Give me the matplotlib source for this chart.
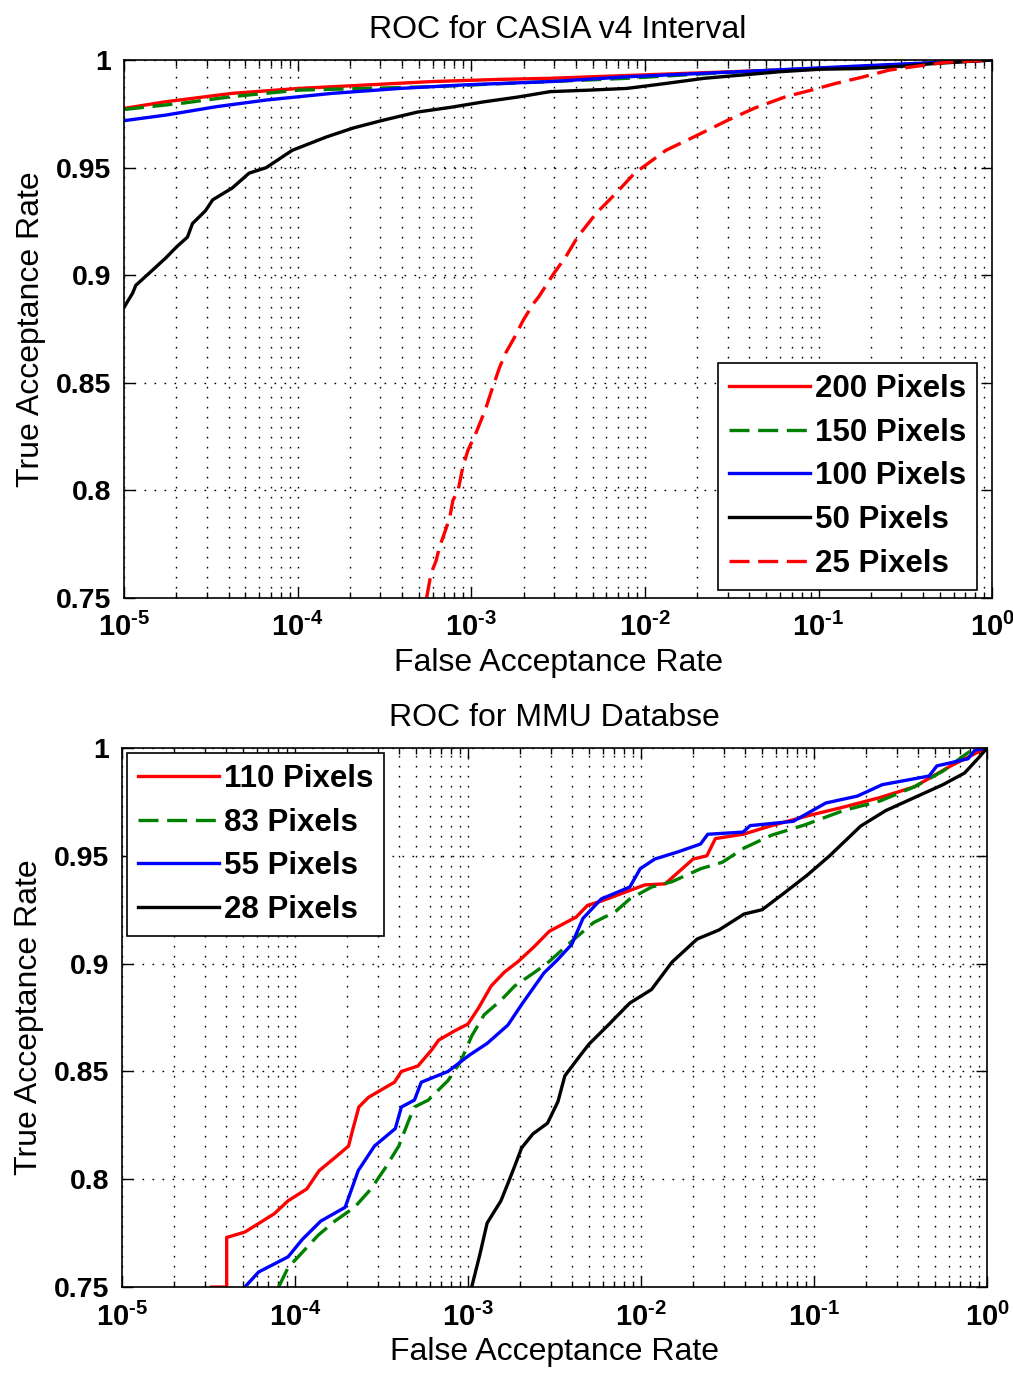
import matplotlib
matplotlib.use("Agg")
import matplotlib.pyplot as plt
from matplotlib.ticker import FixedLocator, FixedFormatter, LogLocator, NullFormatter

plt.rcParams['font.family'] = ['Liberation Sans', 'DejaVu Sans']
plt.rcParams['mathtext.fontset'] = 'custom'
plt.rcParams['mathtext.rm'] = 'Liberation Sans:bold'
plt.rcParams['mathtext.bf'] = 'Liberation Sans:bold'
plt.rcParams['mathtext.it'] = 'Liberation Sans:bold'

# ---- data: ROC for CASIA v4 Interval ----
casia_labels = ['200 Pixels', '150 Pixels', '100 Pixels', '50 Pixels', '25 Pixels']

far_200 = [1e-5, 1.74e-5, 4.2e-5, 1.02e-4, 2.5e-4, 6.0e-4, 1.48e-3, 2.85e-3, 2.2e-2, 1.02e-1, 2.8e-1, 1.0]
tar_200 = [0.9775, 0.9806, 0.9845, 0.9868, 0.9884, 0.990, 0.991, 0.9915, 0.9941, 0.996, 0.9977, 1.0]

far_150 = [1e-5, 2.2e-5, 4.2e-5, 1.02e-4, 2.5e-4, 6.0e-4, 1.48e-3, 7.9e-3, 3.6e-2, 1.7e-1, 1.0]
tar_150 = [0.977, 0.980, 0.983, 0.986, 0.9868, 0.9876, 0.989, 0.9915, 0.9946, 0.9969, 1.0]

far_100 = [1e-5, 1.74e-5, 3.4e-5, 6.6e-5, 1.58e-4, 3.9e-4, 9.5e-4, 2.9e-3, 7.9e-3, 3.6e-2, 1.7e-1, 1.0]
tar_100 = [0.9718, 0.9744, 0.9783, 0.9814, 0.9845, 0.9868, 0.9885, 0.990, 0.9922, 0.9946, 0.9972, 1.0]

far_50 = [1.0e-5, 1.12e-5, 1.17e-5, 1.40e-5, 1.74e-5, 2.0e-5, 2.32e-5, 2.48e-5, 2.95e-5, 3.24e-5,
          4.2e-5, 5.25e-5, 6.6e-5, 9.3e-5, 1.46e-4, 2.09e-4, 3.1e-4, 4.9e-4, 7.6e-4, 1.17e-3,
          1.86e-3, 2.85e-3, 4.8e-3, 7.9e-3, 1.32e-2, 2.2e-2, 3.6e-2, 6.1e-2, 1.02e-1, 1.7e-1,
          2.8e-1, 4.7e-1, 1.0]
tar_50 = [0.885, 0.8916, 0.8953, 0.901, 0.908, 0.913, 0.9177, 0.924, 0.930, 0.935,
          0.9405, 0.9474, 0.950, 0.958, 0.9642, 0.9684, 0.972, 0.9758, 0.978, 0.9805,
          0.9828, 0.9853, 0.986, 0.9868, 0.9891, 0.9915, 0.993, 0.9946, 0.9957, 0.996,
          0.9969, 0.9984, 1.0]

far_25 = [5.53e-4, 5.87e-4, 6.28e-4, 6.56e-4, 7.0e-4, 7.5e-4, 7.84e-4, 8.4e-4, 8.95e-4, 9.57e-4,
          1.07e-3, 1.14e-3, 1.22e-3, 1.33e-3, 1.46e-3, 1.59e-3, 1.78e-3, 1.99e-3, 2.28e-3, 2.45e-3,
          3.0e-3, 3.5e-3, 4.1e-3, 5.25e-3, 6.8e-3, 8.7e-3, 1.32e-2, 2.0e-2, 3.0e-2, 4.3e-2,
          6.5e-2, 9.1e-2, 1.24e-1, 1.78e-1, 2.55e-1, 3.6e-1, 5.5e-1, 1.0]
tar_25 = [0.75, 0.7614, 0.7674, 0.7736, 0.780, 0.787, 0.7953, 0.80, 0.811, 0.8186,
          0.8271, 0.8326, 0.8388, 0.848, 0.8574, 0.8643, 0.8713, 0.879, 0.8868, 0.890,
          0.901, 0.9085, 0.9178, 0.9288, 0.938, 0.9473, 0.958, 0.965, 0.972, 0.9777,
          0.983, 0.986, 0.989, 0.992, 0.9953, 0.997, 0.999, 1.0]

# ---- data: ROC for MMU Database ----
mmu_labels = ['110 Pixels', '83 Pixels', '55 Pixels', '28 Pixels']

far_110 = [3.31e-5, 4.03e-5, 4.03e-5, 5.13e-5, 7.59e-5, 9.12e-5, 1.17e-4, 1.38e-4, 1.70e-4, 2.04e-4,
           2.14e-4, 2.34e-4, 2.66e-4, 3.24e-4, 3.76e-4, 4.12e-4, 5.13e-4, 6.17e-4, 6.76e-4, 8.32e-4,
           1.0e-3, 1.15e-3, 1.36e-3, 1.62e-3, 1.95e-3, 2.40e-3, 2.95e-3, 4.22e-3, 4.90e-3, 5.89e-3,
           1.05e-2, 1.38e-2, 1.62e-2, 2.0e-2, 2.40e-2, 2.69e-2, 3.89e-2, 5.69e-2, 9.12e-2, 0.148,
           0.240, 0.380, 0.617, 0.933, 1.0]
tar_110 = [0.75, 0.75, 0.773, 0.7755, 0.784, 0.790, 0.7955, 0.804, 0.810, 0.8154,
           0.822, 0.8335, 0.838, 0.842, 0.845, 0.850, 0.8525, 0.860, 0.8645, 0.8687,
           0.872, 0.8794, 0.8896, 0.896, 0.901, 0.9077, 0.915, 0.9216, 0.927, 0.929,
           0.9365, 0.937, 0.942, 0.9485, 0.950, 0.958, 0.960, 0.964, 0.9685, 0.9726,
           0.977, 0.982, 0.9917, 0.999, 1.0]

far_83 = [8.04e-5, 9.12e-5, 1.10e-4, 1.36e-4, 1.70e-4, 2.21e-4, 2.75e-4, 3.31e-4, 3.98e-4, 4.52e-4,
          4.90e-4, 5.89e-4, 7.67e-4, 9.12e-4, 1.05e-3, 1.24e-3, 1.55e-3, 1.86e-3, 2.43e-3, 2.95e-3,
          3.80e-3, 5.31e-3, 7.08e-3, 8.61e-3, 1.15e-2, 1.51e-2, 2.21e-2, 2.95e-2, 3.94e-2, 5.69e-2,
          8.81e-2, 0.148, 0.240, 0.380, 0.556, 0.741, 0.851, 1.0]
tar_83 = [0.75, 0.759, 0.766, 0.774, 0.7806, 0.787, 0.7955, 0.805, 0.8154, 0.8268,
          0.8335, 0.8367, 0.8458, 0.855, 0.8664, 0.8763, 0.883, 0.8896, 0.896, 0.901,
          0.909, 0.919, 0.924, 0.930, 0.9355, 0.938, 0.944, 0.947, 0.9536, 0.9596,
          0.9643, 0.971, 0.9754, 0.982, 0.9893, 0.9967, 1.0, 1.0]

far_55 = [5.13e-5, 6.17e-5, 9.12e-5, 1.10e-4, 1.41e-4, 1.95e-4, 2.32e-4, 2.88e-4, 3.80e-4, 4.12e-4,
          4.90e-4, 5.37e-4, 7.67e-4, 1.02e-3, 1.29e-3, 1.70e-3, 2.04e-3, 2.75e-3, 3.31e-3, 3.98e-3,
          4.62e-3, 5.89e-3, 8.61e-3, 9.89e-3, 1.20e-2, 1.66e-2, 2.21e-2, 2.43e-2, 3.89e-2, 4.27e-2,
          7.59e-2, 0.117, 0.178, 0.248, 0.462, 0.513, 0.776, 0.851, 1.0]
tar_55 = [0.75, 0.757, 0.764, 0.772, 0.7806, 0.787, 0.804, 0.8154, 0.8235, 0.8335,
          0.8367, 0.845, 0.850, 0.8576, 0.863, 0.8715, 0.881, 0.8957, 0.902, 0.909,
          0.921, 0.930, 0.9355, 0.944, 0.9485, 0.952, 0.9555, 0.960, 0.961, 0.964,
          0.966, 0.9745, 0.9777, 0.983, 0.987, 0.9917, 0.995, 0.999, 1.0]

far_28 = [1.05e-3, 1.17e-3, 1.29e-3, 1.55e-3, 1.70e-3, 1.86e-3, 2.04e-3, 2.37e-3, 2.88e-3, 3.31e-3,
          3.63e-3, 4.47e-3, 5.01e-3, 6.46e-3, 8.61e-3, 1.15e-2, 1.51e-2, 2.11e-2, 2.82e-2, 3.94e-2,
          5.01e-2, 6.61e-2, 9.12e-2, 0.123, 0.186, 0.260, 0.380, 0.556, 0.741, 0.902, 1.0]
tar_28 = [0.75, 0.765, 0.7797, 0.790, 0.798, 0.806, 0.8145, 0.821, 0.826, 0.836,
          0.848, 0.8576, 0.8627, 0.8715, 0.8817, 0.888, 0.9007, 0.9114, 0.9156, 0.923,
          0.925, 0.9323, 0.941, 0.950, 0.9638, 0.971, 0.977, 0.983, 0.9884, 0.9958, 1.0]

x_ticks = [1e-5, 1e-4, 1e-3, 1e-2, 1e-1, 1.0]
x_tick_labels = [r'$\mathbf{10^{\text{-}5}}$', r'$\mathbf{10^{\text{-}4}}$', r'$\mathbf{10^{\text{-}3}}$',
                 r'$\mathbf{10^{\text{-}2}}$', r'$\mathbf{10^{\text{-}1}}$', r'$\mathbf{10^{0}}$']
y_ticks = [0.75, 0.8, 0.85, 0.9, 0.95, 1.0]
y_tick_labels = ['0.75', '0.8', '0.85', '0.9', '0.95', '1']

LW = 2.4
DASH = (0, (6.0, 2.6))
GRID_LS = (0, (1.2, 6.0))


def style_axes(ax, title):
    ax.set_xscale('log')
    ax.set_xlim(1e-5, 1.0)
    ax.set_ylim(0.75, 1.0)
    ax.xaxis.set_major_locator(FixedLocator(x_ticks))
    ax.xaxis.set_major_formatter(FixedFormatter(x_tick_labels))
    ax.xaxis.set_minor_locator(LogLocator(base=10, subs=range(2, 10), numticks=20))
    ax.xaxis.set_minor_formatter(NullFormatter())
    ax.yaxis.set_major_locator(FixedLocator(y_ticks))
    ax.yaxis.set_major_formatter(FixedFormatter(y_tick_labels))
    ax.tick_params(which='both', direction='in', top=True, right=True, width=1.0)
    ax.tick_params(which='major', length=8)
    ax.tick_params(axis='y', which='major', labelsize=20.5, pad=9)
    ax.tick_params(axis='x', which='major', labelsize=21, pad=11)
    ax.tick_params(which='minor', length=4.5)
    for lab in ax.get_yticklabels():
        lab.set_fontweight('bold')
    ax.grid(True, which='major', axis='both', linestyle=GRID_LS, color='k', linewidth=1.0)
    ax.grid(True, which='minor', axis='x', linestyle=GRID_LS, color='k', linewidth=1.0)
    for sp in ax.spines.values():
        sp.set_linewidth(1.2)
    ax.set_title(title, fontsize=23, pad=16)
    ax.set_xlabel('False Acceptance Rate', fontsize=23, labelpad=4)
    ax.set_ylabel('True Acceptance Rate', fontsize=23, labelpad=7)


def add_legend(ax, loc, anchor):
    leg = ax.legend(loc=loc, bbox_to_anchor=anchor, borderaxespad=0,
                    prop={'size': 22.5, 'weight': 'bold'}, fancybox=False, framealpha=1,
                    edgecolor='k', handlelength=2.6, handletextpad=0.15, labelspacing=0.44,
                    borderpad=0.35)
    leg.get_frame().set_linewidth(1.2)
    return leg


fig = plt.figure(figsize=(10.13, 13.73), dpi=100)

# top panel
ax1 = fig.add_axes([0.1224, 0.5645, 0.857, 0.3918])
ax1.plot(far_200, tar_200, color='#ff0000', lw=LW, label=casia_labels[0])
ax1.plot(far_150, tar_150, color='#008000', lw=LW, linestyle=DASH, label=casia_labels[1])
ax1.plot(far_100, tar_100, color='#0000ff', lw=LW, label=casia_labels[2])
ax1.plot(far_50, tar_50, color='k', lw=LW, label=casia_labels[3])
ax1.plot(far_25, tar_25, color='#ff0000', lw=LW, linestyle=DASH, label=casia_labels[4])
style_axes(ax1, 'ROC for CASIA v4 Interval')
add_legend(ax1, 'lower right', (0.983, 0.015))

# bottom panel
ax2 = fig.add_axes([0.1204, 0.0626, 0.854, 0.3926])
ax2.plot(far_110, tar_110, color='#ff0000', lw=LW, label=mmu_labels[0])
ax2.plot(far_83, tar_83, color='#008000', lw=LW, linestyle=DASH, label=mmu_labels[1])
ax2.plot(far_55, tar_55, color='#0000ff', lw=LW, label=mmu_labels[2])
ax2.plot(far_28, tar_28, color='k', lw=LW, label=mmu_labels[3])
style_axes(ax2, 'ROC for MMU Databse')
add_legend(ax2, 'upper left', (0.006, 0.991))

fig.savefig('out.png', dpi=100)
